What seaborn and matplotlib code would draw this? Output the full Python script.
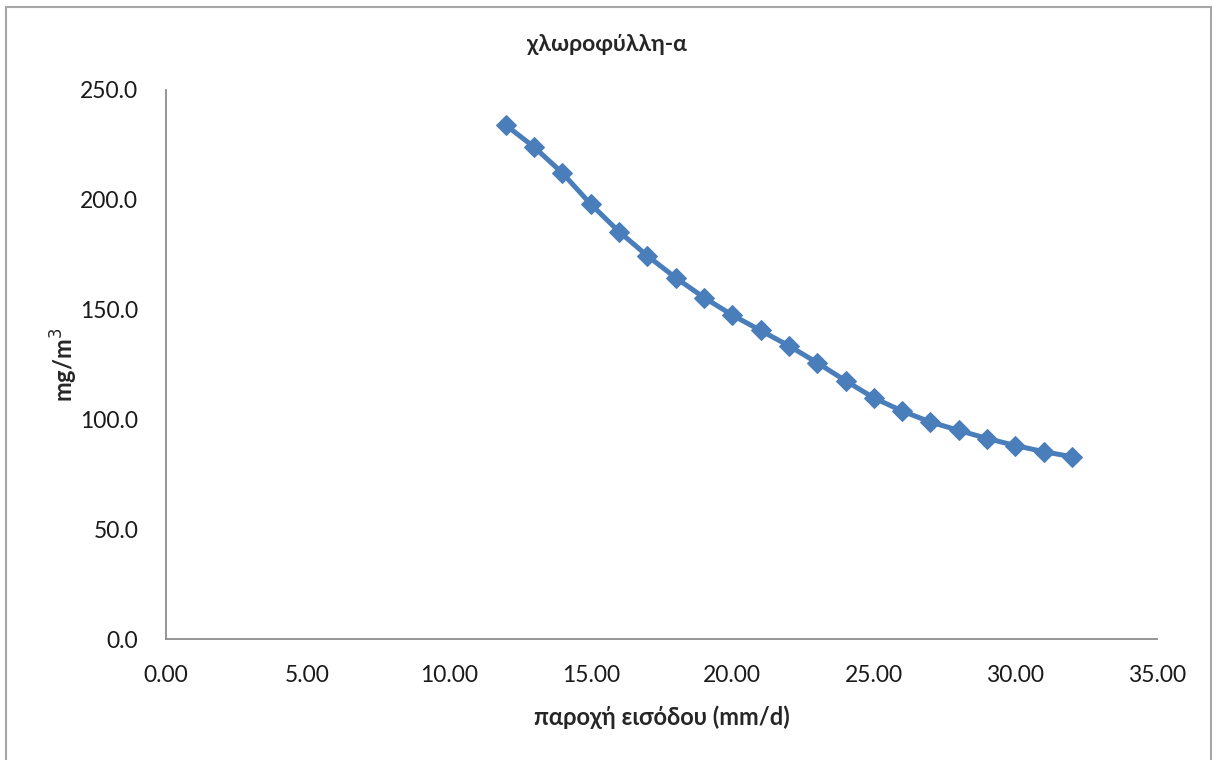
import matplotlib
matplotlib.use("Agg")
import matplotlib.pyplot as plt
from matplotlib.patches import Rectangle
import seaborn as sns
import pandas as pd

inflow = [12, 13, 14, 15, 16, 17, 18, 19, 20, 21, 22,
          23, 24, 25, 26, 27, 28, 29, 30, 31, 32]
chla = [234.0, 224.0, 212.2, 198.0, 185.5, 174.5, 164.5, 155.5, 147.5, 140.5, 133.5,
        125.8, 117.6, 109.8, 103.8, 98.8, 95.0, 91.3, 88.1, 85.3, 83.0]

x_ticks = [0, 5, 10, 15, 20, 25, 30, 35]
y_ticks = [0, 50, 100, 150, 200, 250]

blue = "#4a7ebb"
fonts = ["Lato", "Noto Sans", "DejaVu Sans"]

sns.set_style("white")
plt.rcParams["font.family"] = fonts

df = pd.DataFrame({"inflow": inflow, "chla": chla})

fig = plt.figure(figsize=(12.13, 7.60), dpi=100)
ax = fig.add_axes([0.1369, 0.1592, 0.8169, 0.7224])

sns.lineplot(data=df, x="inflow", y="chla", ax=ax, color=blue, linewidth=3.6,
             marker="D", markersize=10, markeredgecolor=blue)

ax.set_xlim(0, 35)
ax.set_ylim(0, 250)
ax.set_xticks(x_ticks)
ax.set_yticks(y_ticks)
ax.set_xticklabels(["{:.2f}".format(v) for v in x_ticks])
ax.set_yticklabels(["{:.1f}".format(v) for v in y_ticks])
ax.tick_params(axis="both", length=0, labelsize=16.5, colors="#1a1a1a")
ax.tick_params(axis="x", pad=19)
ax.tick_params(axis="y", pad=20)

for side in ["top", "right"]:
    ax.spines[side].set_visible(False)
for side in ["left", "bottom"]:
    ax.spines[side].set_color("#8c8c8c")
    ax.spines[side].set_linewidth(1.3)

ax.set_xlabel("παροχή εισόδου (mm/d)", fontsize=17, fontweight="bold", labelpad=14)
ax.set_ylabel("mg/m$^3$", fontsize=17, fontweight="bold", labelpad=0)
# title sits over the middle of the whole figure, not the axes
ax.set_title("χλωροφύλλη-α", fontsize=16.5, fontweight="bold", pad=28,
             x=(606.5 - 166) / 991)

fig.patches.append(Rectangle((6 / 1213, -0.02), 1205 / 1213, 1 - 7 / 760 + 0.02,
                             transform=fig.transFigure, fill=False,
                             edgecolor="#a6a6a6", linewidth=1.5))

fig.savefig("out.png", dpi=100)
